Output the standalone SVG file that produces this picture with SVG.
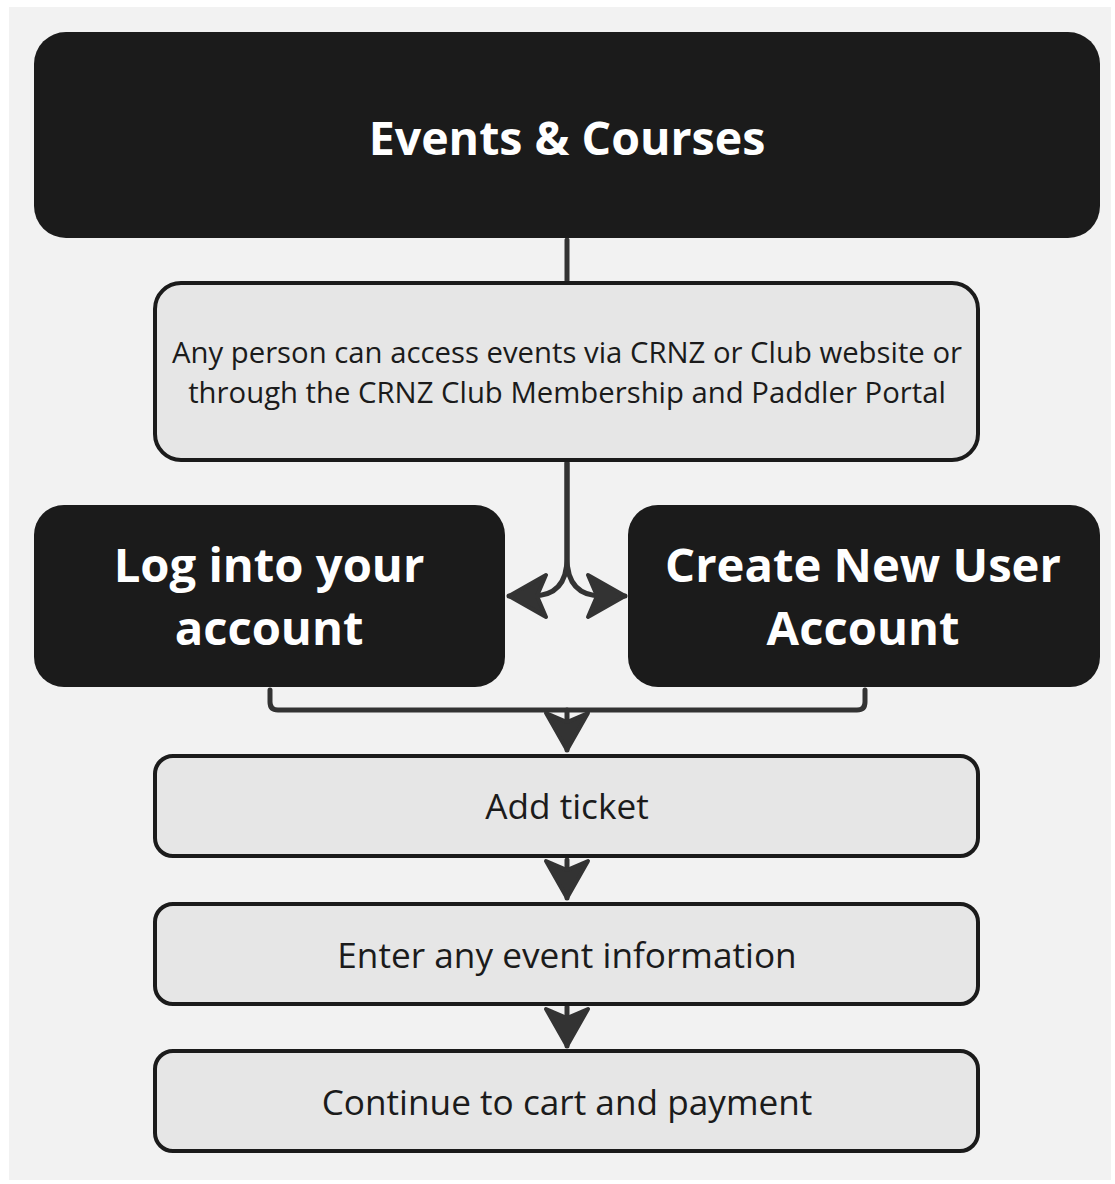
<svg xmlns="http://www.w3.org/2000/svg" width="1115" height="1184" viewBox="0 0 1115 1184">
<style>
.dark{fill:#1b1b1b}
.light{fill:#e6e6e6;stroke:#1b1b1b;stroke-width:4}
.t{font-family:"Open Sans","Noto Sans",sans-serif;text-anchor:middle;fill:#1b1b1b}
.tb{font-family:"Open Sans","Noto Sans",sans-serif;font-weight:bold;text-anchor:middle;fill:#ffffff}
.c{fill:none;stroke:#333333;stroke-width:5;stroke-linecap:round;stroke-linejoin:round}
</style>
<defs>
<marker id="ah" markerUnits="userSpaceOnUse" orient="auto" refX="0" refY="0" markerWidth="60" markerHeight="60" viewBox="-45 -30 50 60" overflow="visible">
<path d="M0,0 L-37,-21 L-28,0 L-37,21 Z" fill="#333333" stroke="#333333" stroke-width="4" stroke-linejoin="round"/>
</marker>
</defs>
<rect x="0" y="0" width="1115" height="1184" fill="#ffffff"/>
<rect x="9" y="7" width="1102" height="1173" fill="#f2f2f2"/>
<g id="connectors">
<path class="c" d="M567,240 L567,282"/>
<path class="c" d="M567,463 L567,558 Q567,596 532,596 L509,596" marker-end="url(#ah)"/>
<path class="c" d="M567,463 L567,558 Q567,596 602,596 L625,596" marker-end="url(#ah)"/>
<path class="c" d="M270,690 L270,702 Q270,710 278,710 L857,710 Q865,710 865,702 L865,690"/>
<path class="c" d="M567,710 L567,750" marker-end="url(#ah)"/>
<path class="c" d="M567,860 L567,898" marker-end="url(#ah)"/>
<path class="c" d="M567,1007 L567,1046" marker-end="url(#ah)"/>
</g>
<g id="events">
<rect class="dark" x="34" y="32" width="1066" height="206" rx="32"/>
<text class="tb" x="567" y="155" font-size="46.5">Events &amp; Courses</text>
</g>
<g id="access">
<rect class="light" x="155" y="283" width="823" height="177" rx="26"/>
<text class="t" x="567" y="363" font-size="29.3">Any person can access events via CRNZ or Club website or</text>
<text class="t" x="567" y="403" font-size="29.3">through the CRNZ Club Membership and Paddler Portal</text>
</g>
<g id="login">
<rect class="dark" x="34" y="505" width="471" height="182" rx="30"/>
<text class="tb" x="269" y="582" font-size="47.2">Log into your</text>
<text class="tb" x="269" y="645" font-size="47.2">account</text>
</g>
<g id="create">
<rect class="dark" x="628" y="505" width="472" height="182" rx="30"/>
<text class="tb" x="863" y="582" font-size="47.2">Create New User</text>
<text class="tb" x="863" y="645" font-size="47.2">Account</text>
</g>
<g id="addticket">
<rect class="light" x="155" y="756" width="823" height="100" rx="18"/>
<text class="t" x="567" y="819" font-size="35.2">Add ticket</text>
</g>
<g id="enter">
<rect class="light" x="155" y="904" width="823" height="100" rx="18"/>
<text class="t" x="567" y="968" font-size="35.2">Enter any event information</text>
</g>
<g id="continue">
<rect class="light" x="155" y="1051" width="823" height="100" rx="18"/>
<text class="t" x="567" y="1115" font-size="35.2">Continue to cart and payment</text>
</g>
</svg>
